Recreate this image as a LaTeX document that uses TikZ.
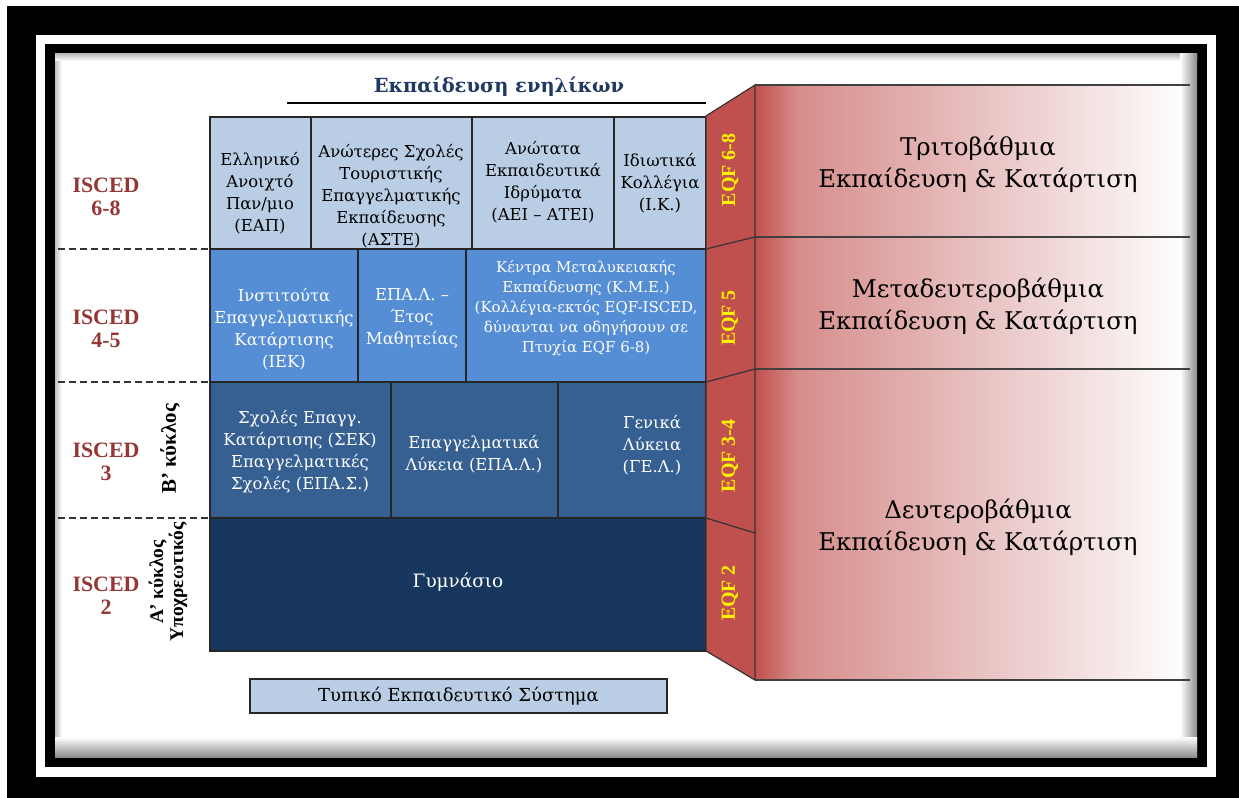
\documentclass[tikz,border=0pt]{standalone}
\usepackage{fontspec}
\setmainfont{DejaVu Serif}
\newfontfamily\timesfont{Liberation Serif}

\definecolor{rowA}{RGB}{185,205,229}
\definecolor{rowB}{RGB}{85,142,213}
\definecolor{rowC}{RGB}{55,96,146}
\definecolor{rowD}{RGB}{23,55,94}
\definecolor{eqfred}{RGB}{192,80,77}
\definecolor{iscedred}{RGB}{149,55,53}
\definecolor{titleblue}{RGB}{31,56,100}
\definecolor{pinkA}{RGB}{214,142,140}
\definecolor{pinkB}{RGB}{236,204,204}

\pgfdeclarehorizontalshading{redfade}{100bp}{color(0bp)=(eqfred); color(25bp)=(eqfred); color(30bp)=(pinkA); color(55bp)=(pinkB); color(75bp)=(white); color(100bp)=(white)}

\begin{document}
\begin{tikzpicture}[x=1bp, y=-1bp,
    cell/.style={draw=black!85, line width=1.2bp},
    txt/.style={align=center, inner sep=0pt, font=\fontsize{16.5}{22}\selectfont},
    wtxt/.style={txt, text=white},
    isced/.style={align=center, inner sep=0pt, text=iscedred, font=\timesfont\bfseries\fontsize{22}{23}\selectfont},
    eqf/.style={rotate=90, inner sep=0pt, text=yellow, font=\timesfont\bfseries\fontsize{20}{22}\selectfont},
    cycle/.style={rotate=90, align=center, inner sep=0pt, font=\timesfont\bfseries\fontsize{19.5}{20}\selectfont},
    level/.style={align=center, inner sep=0pt, font=\fontsize{24.5}{32}\selectfont},
    sep/.style={line width=1.3bp, dash pattern=on 7bp off 4bp, black!80}]
    %\draw[help lines] (0,0) grid (1239,798);
    \useasboundingbox (0,0) rectangle (1239,798);
    \fill[white] (0,0) rectangle (1239,798);
    % frame
    \fill[black] (7,6) rectangle (1239,798);
    \fill[white] (36,35) rectangle (1216,777);
    \fill[black] (45,44) rectangle (1207,767);
    \fill[white] (55,54) rectangle (1197,757);

    % right panel
    \shade[shading=redfade] (755,85) rectangle (1190,680);
    \shade[left color=black!25, right color=white] (55,54) rectangle (62,757);
    \shade[top color=black!25, bottom color=white] (55,54) rectangle (1197,61);
    \shade[left color=white, right color=black!45] (1180,54) rectangle (1197,757);
    \shade[top color=white, bottom color=black!45] (55,737) rectangle (1197,757);
    \foreach \y in {85,237,369,680}
        \draw[black!75, line width=1.2bp] (755,\y) -- (1190,\y);

    \node[font=\bfseries\fontsize{19.5}{22}\selectfont, text=titleblue, inner sep=0pt] (adult) at (499,87) {Εκπαίδευση ενηλίκων};
    \draw[line width=1.2bp] (287,103) -- (706,103);

    % rows
    \filldraw[cell, fill=rowA] (210,117) rectangle (311,249);
    \filldraw[cell, fill=rowA] (311,117) rectangle (472,249);
    \filldraw[cell, fill=rowA] (472,117) rectangle (614,249);
    \filldraw[cell, fill=rowA] (614,117) rectangle (706,249);
    \filldraw[cell, fill=rowB] (210,249) rectangle (358,382);
    \filldraw[cell, fill=rowB] (358,249) rectangle (466,382);
    \filldraw[cell, fill=rowB] (466,249) rectangle (706,382);
    \filldraw[cell, fill=rowC] (210,382) rectangle (391,518);
    \filldraw[cell, fill=rowC] (391,382) rectangle (558,518);
    \filldraw[cell, fill=rowC] (558,382) rectangle (706,518);
    \filldraw[cell, fill=rowD] (210,518) rectangle (706,651);

    \node[txt] (eap) at (260,193) {Ελληνικό\\Ανοιχτό\\Παν/μιο\\(ΕΑΠ)};
    \node[txt] (aste) at (391,196) {Ανώτερες Σχολές\\Τουριστικής\\Επαγγελματικής\\Εκπαίδευσης\\(ΑΣΤΕ)};
    \node[txt] (aei) at (543,182) {Ανώτατα\\Εκπαιδευτικά\\Ιδρύματα\\(ΑΕΙ – ΑΤΕΙ)};
    \node[txt] (ik) at (660,183) {Ιδιωτικά\\Κολλέγια\\(Ι.Κ.)};
    \node[wtxt] (iek) at (284,329) {Ινστιτούτα\\Επαγγελματικής\\Κατάρτισης\\(ΙΕΚ)};
    \node[wtxt] (mathit) at (412,318) {ΕΠΑ.Λ. –\\Έτος\\Μαθητείας};
    \node[wtxt, font=\fontsize{15}{20}\selectfont] (kme) at (586,308) {Κέντρα Μεταλυκειακής\\Εκπαίδευσης (Κ.Μ.Ε.)\\(Κολλέγια-εκτός EQF-ISCED,\\δύνανται να οδηγήσουν σε\\Πτυχία EQF 6-8)};
    \node[wtxt] (sek) at (300,452) {Σχολές Επαγγ.\\Κατάρτισης (ΣΕΚ)\\Επαγγελματικές\\Σχολές (ΕΠΑ.Σ.)};
    \node[wtxt] (epal) at (474,454) {Επαγγελματικά\\Λύκεια (ΕΠΑ.Λ.)};
    \node[wtxt] (gel) at (652,445) {Γενικά\\Λύκεια\\(ΓΕ.Λ.)};
    \node[wtxt, font=\fontsize{18.5}{22}\selectfont] (gym) at (458,582) {Γυμνάσιο};

    % EQF band
    \filldraw[fill=eqfred, draw=black!80, line width=1.2bp] (706,116) -- (755,85) -- (755,680) -- (706,651) -- cycle;
    \draw[black!80, line width=1.2bp] (706,249) -- (755,237);
    \draw[black!80, line width=1.2bp] (706,382) -- (755,369);
    \draw[black!80, line width=1.2bp] (706,518) -- (755,533);
    \node[eqf] (eqf68) at (730,170) {EQF 6-8};
    \node[eqf] (eqf5) at (730,318) {EQF 5};
    \node[eqf] (eqf34) at (730,456) {EQF 3-4};
    \node[eqf] (eqf2) at (730,593) {EQF 2};

    \node[level] (tert) at (978,164) {Τριτοβάθμια\\Εκπαίδευση \& Κατάρτιση};
    \node[level] (post) at (978,306) {Μεταδευτεροβάθμια\\Εκπαίδευση \& Κατάρτιση};
    \node[level] (sec) at (978,527) {Δευτεροβάθμια\\Εκπαίδευση \& Κατάρτιση};

    % ISCED levels
    \draw[sep] (58,249) -- (210,249);
    \draw[sep] (58,382) -- (210,382);
    \draw[sep] (58,518) -- (210,518);
    \node[isced] (is68) at (106,197) {ISCED\\6-8};
    \node[isced] (is45) at (106,329) {ISCED\\4-5};
    \node[isced] (is3) at (106,462) {ISCED\\3};
    \node[isced] (is2) at (106,596) {ISCED\\2};
    \node[cycle, font=\timesfont\bfseries\fontsize{21}{20}\selectfont] (bcyc) at (170,449) {Β’ κύκλος};
    \node[cycle] (acyc) at (168,582) {Α’ κύκλος\\Υποχρεωτικός};

    \node[draw=black!85, line width=1.2bp, fill=rowA, minimum width=417bp, minimum height=34bp, inner sep=0pt, font=\fontsize{18}{20}\selectfont] (tes) at (458.5,696) {Τυπικό Εκπαιδευτικό Σύστημα};
\end{tikzpicture}
\end{document}
